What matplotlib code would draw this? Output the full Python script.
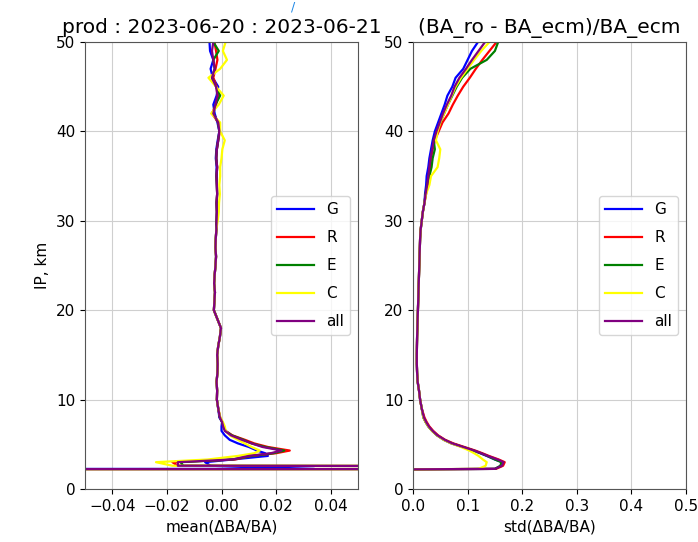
import numpy as np
import matplotlib
matplotlib.use('Agg')
import matplotlib.pyplot as plt

# altitudes (km)
h = [2.2, 2.25, 2.6, 3.0, 3.3, 3.7, 4.0, 4.3, 4.7, 5.1, 5.5, 6.0, 6.5, 7.0, 7.5, 8.0,
     9, 10, 11, 12, 13, 14, 15, 16, 17, 18, 19, 20, 21, 22, 23, 24, 25, 26, 27, 28, 29,
     30, 31, 32, 33, 34, 35, 36, 37, 38, 39, 40, 41, 42, 43, 44, 45, 46, 47, 48, 49, 50]

labels = ['G', 'R', 'E', 'C', 'all']
colors = ['blue', 'red', 'green', 'yellow', 'purple']

# mean(dBA/BA)
mean_G = [-1.0, 0.034, -0.004, -0.006, 0.004, 0.017, 0.016, 0.013, 0.010, 0.006, 0.003, 0.0012, 0.0, 0.0, 0.0002, -0.0008,
          -0.0012, -0.0017, -0.0016, -0.0018, -0.0015, -0.0014, -0.0016, -0.0012, -0.0006, -0.0002, -0.0015, -0.0028, -0.0026,
          -0.0024, -0.0027, -0.0025, -0.0022, -0.002, -0.0022, -0.0021, -0.0019, -0.0018, -0.0017, -0.0018, -0.0016, -0.0017,
          -0.0019, -0.0018, -0.0021, -0.0019, -0.0014, -0.0008, -0.0015, -0.0025, -0.0030, -0.0018, -0.0012, -0.0032, -0.0040,
          -0.0030, -0.0042, -0.0044]
mean_R = [-1.0, 1.0, -0.016, -0.018, 0.005, 0.011, 0.020, 0.025, 0.017, 0.012, 0.0086, 0.004, 0.0015, 0.0008, 0.0003, -0.0005,
          -0.0012, -0.0017, -0.0016, -0.0018, -0.0015, -0.0014, -0.0016, -0.0012, -0.0006, -0.0002, -0.0015, -0.0028, -0.0026,
          -0.0024, -0.0027, -0.0025, -0.0022, -0.002, -0.0022, -0.0021, -0.0019, -0.0018, -0.0017, -0.0018, -0.0016, -0.0017,
          -0.0018, -0.0016, -0.0019, -0.0017, -0.0012, -0.0006, -0.0012, -0.0035, -0.0020, -0.0012, -0.0018, -0.0030, -0.0022,
          -0.0015, -0.0020, -0.0026]
mean_E = [-1.0, 1.0, -0.014, -0.015, 0.004, 0.011, 0.019, 0.023, 0.016, 0.011, 0.008, 0.0038, 0.0014, 0.0007, 0.0002, -0.0006,
          -0.0012, -0.0017, -0.0016, -0.0018, -0.0015, -0.0014, -0.0016, -0.0012, -0.0006, -0.0002, -0.0015, -0.0028, -0.0026,
          -0.0024, -0.0027, -0.0025, -0.0022, -0.002, -0.0022, -0.0021, -0.0019, -0.0018, -0.0017, -0.0018, -0.0016, -0.0017,
          -0.0018, -0.0016, -0.0019, -0.0017, -0.0012, -0.0008, -0.0012, -0.0030, -0.0022, -0.0005, -0.0020, -0.0035, -0.0025,
          -0.0030, -0.0010, -0.0030]
mean_C = [-1.0, 1.0, -0.018, -0.024, -0.005, 0.006, 0.012, 0.014, 0.011, 0.0085, 0.006, 0.003, 0.0015, 0.0012, 0.0005, -0.0004,
          -0.0012, -0.0017, -0.0016, -0.0018, -0.0015, -0.0014, -0.0016, -0.0012, -0.0006, -0.0002, -0.0015, -0.0028, -0.0026,
          -0.0024, -0.0027, -0.0025, -0.0022, -0.002, -0.0022, -0.0021, -0.0019, -0.0014, -0.0010, -0.0009, -0.0006, -0.0008,
          -0.0005, -0.0005, 0.0, 0.0003, 0.0012, -0.0005, -0.0005, -0.0038, -0.0010, 0.0008, -0.0020, -0.0048, -0.0005,
          0.0020, 0.0005, 0.0015]
mean_all = [-1.0, 1.0, -0.016, -0.016, 0.004, 0.010, 0.018, 0.022, 0.015, 0.011, 0.0075, 0.0035, 0.0012, 0.0006, 0.0002, -0.0006,
            -0.0012, -0.0017, -0.0016, -0.0018, -0.0015, -0.0014, -0.0016, -0.0012, -0.0006, -0.0002, -0.0015, -0.0028, -0.0026,
            -0.0024, -0.0027, -0.0025, -0.0022, -0.002, -0.0022, -0.0021, -0.0019, -0.0018, -0.0017, -0.0018, -0.0016, -0.0017,
            -0.0018, -0.0016, -0.0019, -0.0017, -0.0012, -0.0008, -0.0012, -0.0030, -0.0022, -0.0015, -0.0020, -0.0035, -0.0025,
            -0.0030, -0.0035, -0.0030]

# std(dBA/BA)
std_G = [0.0, 0.15, 0.162, 0.163, 0.150, 0.135, 0.123, 0.110, 0.090, 0.070, 0.056, 0.044, 0.035, 0.028, 0.023, 0.019,
         0.016, 0.013, 0.011, 0.0085, 0.0075, 0.007, 0.007, 0.0072, 0.0075, 0.008, 0.0085, 0.009, 0.0095, 0.010, 0.0105,
         0.011, 0.0115, 0.012, 0.0125, 0.013, 0.014, 0.016, 0.018, 0.021, 0.022, 0.024, 0.025, 0.028, 0.030, 0.033, 0.036,
         0.040, 0.046, 0.052, 0.058, 0.063, 0.072, 0.078, 0.092, 0.100, 0.108, 0.119]
std_R = [0.0, 0.152, 0.165, 0.168, 0.157, 0.139, 0.127, 0.114, 0.094, 0.074, 0.059, 0.046, 0.037, 0.030, 0.025, 0.021,
         0.016, 0.013, 0.011, 0.0085, 0.0075, 0.007, 0.007, 0.0072, 0.0075, 0.008, 0.0085, 0.009, 0.0095, 0.010, 0.0105,
         0.011, 0.0115, 0.012, 0.0125, 0.013, 0.014, 0.016, 0.018, 0.021, 0.024, 0.027, 0.029, 0.031, 0.033, 0.036, 0.040,
         0.047, 0.054, 0.065, 0.073, 0.082, 0.092, 0.104, 0.115, 0.127, 0.140, 0.153]
std_E = [0.0, 0.15, 0.16, 0.162, 0.15, 0.136, 0.124, 0.111, 0.091, 0.071, 0.057, 0.044, 0.035, 0.028, 0.023, 0.019,
         0.016, 0.013, 0.011, 0.0085, 0.0075, 0.007, 0.007, 0.0072, 0.0075, 0.008, 0.0085, 0.009, 0.0095, 0.010, 0.0105,
         0.011, 0.0115, 0.012, 0.0125, 0.013, 0.014, 0.016, 0.018, 0.021, 0.023, 0.026, 0.030, 0.034, 0.036, 0.040, 0.038,
         0.044, 0.050, 0.057, 0.064, 0.072, 0.080, 0.090, 0.105, 0.135, 0.150, 0.156]
std_C = [0.0, 0.12, 0.133, 0.135, 0.128, 0.12, 0.112, 0.103, 0.088, 0.07, 0.056, 0.044, 0.035, 0.028, 0.023, 0.019,
         0.016, 0.013, 0.011, 0.0085, 0.0075, 0.007, 0.007, 0.0072, 0.0075, 0.008, 0.0085, 0.009, 0.0095, 0.010, 0.0105,
         0.011, 0.0115, 0.012, 0.0125, 0.013, 0.014, 0.016, 0.018, 0.021, 0.024, 0.030, 0.033, 0.045, 0.048, 0.050, 0.042,
         0.045, 0.050, 0.057, 0.064, 0.071, 0.078, 0.088, 0.100, 0.112, 0.125, 0.140]
std_all = [0.0, 0.15, 0.163, 0.166, 0.155, 0.137, 0.125, 0.112, 0.092, 0.072, 0.058, 0.045, 0.036, 0.029, 0.024, 0.020,
           0.016, 0.013, 0.011, 0.0085, 0.0075, 0.007, 0.007, 0.0072, 0.0075, 0.008, 0.0085, 0.009, 0.0095, 0.010, 0.0105,
           0.011, 0.0115, 0.012, 0.0125, 0.013, 0.014, 0.016, 0.018, 0.021, 0.023, 0.026, 0.028, 0.030, 0.032, 0.035, 0.038,
           0.043, 0.049, 0.055, 0.062, 0.070, 0.076, 0.085, 0.097, 0.108, 0.120, 0.132]

means = [mean_G, mean_R, mean_E, mean_C, mean_all]
stds = [std_G, std_R, std_E, std_C, std_all]

fig = plt.figure(figsize=(6.98, 5.42), dpi=100)
ax1 = fig.add_axes([0.1218, 0.0978, 0.3911, 0.8247])
ax2 = fig.add_axes([0.5917, 0.0978, 0.3911, 0.8247])

for vals, lab, col in zip(means, labels, colors):
    ax1.plot(vals, h, color=col, linewidth=1.6, label=lab)
for vals, lab, col in zip(stds, labels, colors):
    ax2.plot(vals, h, color=col, linewidth=1.6, label=lab)

ax1.set_xlim(-0.05, 0.05)
ax1.set_ylim(0, 50)
ax1.set_xticks([-0.04, -0.02, 0.0, 0.02, 0.04])
ax1.set_yticks([0, 10, 20, 30, 40, 50])
ax1.set_xlabel('mean(ΔBA/BA)', fontsize=11)
ax1.set_ylabel('IP, km', fontsize=11)
ax1.set_title('prod : 2023-06-20 : 2023-06-21', fontsize=14.5, pad=6.5)

ax2.set_xlim(0, 0.5)
ax2.set_ylim(0, 50)
ax2.set_xticks([0.0, 0.1, 0.2, 0.3, 0.4, 0.5])
ax2.set_yticks([0, 10, 20, 30, 40, 50])
ax2.set_xlabel('std(ΔBA/BA)', fontsize=11)
ax2.set_title('(BA_ro - BA_ecm)/BA_ecm', fontsize=14.5, pad=6.5)

for ax in (ax1, ax2):
    ax.tick_params(labelsize=11)
    ax.grid(True, color='#cfcfcf')
    ax.legend(loc='center right', fontsize=11, labelspacing=0.85, handlelength=2.4)
    for s in ax.spines.values():
        s.set_edgecolor('#555555')

# bout de texte bleu en haut de la capture
fig.text(0.42, 0.999, '/', color='#1e88e5', fontsize=9, ha='center', va='top')

fig.savefig('out.png', dpi=100)
